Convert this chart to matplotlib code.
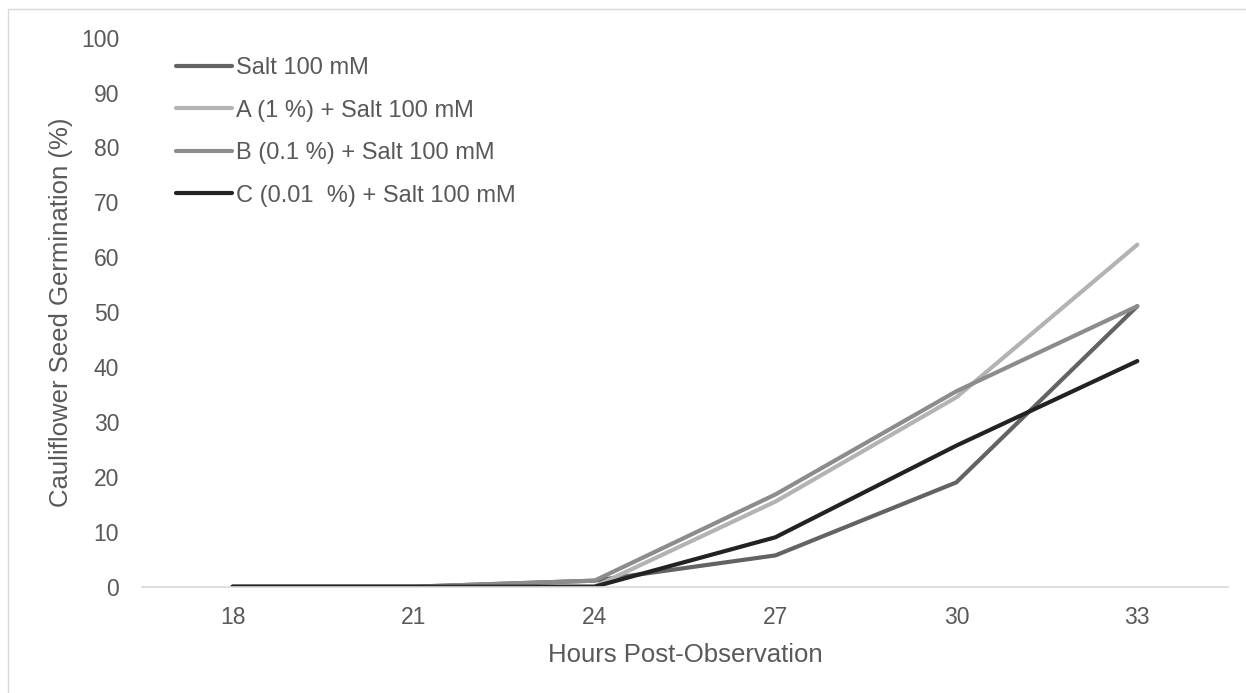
import matplotlib.pyplot as plt
from matplotlib.patches import Rectangle

plt.rcParams['font.family'] = ['Liberation Sans', 'DejaVu Sans']

# Germination (%) per sampling time
hours = ["18", "21", "24", "27", "30", "33"]
salt = [0, 0, 1.1, 5.7, 19.0, 51.1]
treat_a = [0, 0, 0, 15.5, 34.5, 62.3]
treat_b = [0, 0, 1.1, 16.8, 35.6, 51.1]
treat_c = [0, 0, 0, 9.0, 25.7, 41.1]

labels = ["Salt 100 mM", "A (1 %) + Salt 100 mM",
          "B (0.1 %) + Salt 100 mM", "C (0.01  %) + Salt 100 mM"]
colors = ["#636363", "#b3b3b3", "#8c8c8c", "#222222"]
text_col = "#595959"

fig = plt.figure(figsize=(12.46, 6.93), dpi=100)
ax = fig.add_axes([0.114, 0.1534, 0.8714, 0.7922])

for vals, lab, col in zip([salt, treat_a, treat_b, treat_c], labels, colors):
    ax.plot(hours, vals, color=col, lw=3, label=lab,
            solid_capstyle="round", solid_joinstyle="round")

ax.set_xlim(-0.5, 5.5)
ax.set_ylim(0, 100)
ax.set_yticks(range(0, 101, 10))
ax.tick_params(length=0, labelsize=16.5, colors=text_col)
ax.tick_params(axis="y", pad=16.5)
ax.tick_params(axis="x", pad=14)
for side in ["top", "right", "left"]:
    ax.spines[side].set_visible(False)
ax.spines["bottom"].set_color("#d9d9d9")
ax.spines["bottom"].set_linewidth(1.2)

ax.set_xlabel("Hours Post-Observation", fontsize=18.5, color=text_col, labelpad=10)
ax.set_ylabel("Cauliflower Seed Germination (%)", fontsize=18.5, color=text_col, labelpad=6)

leg = ax.legend(loc="upper left", bbox_to_anchor=(0.0227, 0.982), frameon=False,
                fontsize=17, handlelength=2.37, handletextpad=0.17,
                labelspacing=0.87, borderaxespad=0)
for t in leg.get_texts():
    t.set_color(text_col)

# chart frame (only its top and left edges fall inside the image)
fig.patches.append(Rectangle((0.0064, -0.05), 1.1, 1.037, transform=fig.transFigure,
                             fill=False, edgecolor="#d9d9d9", lw=1))

fig.savefig("out.png", dpi=100)
